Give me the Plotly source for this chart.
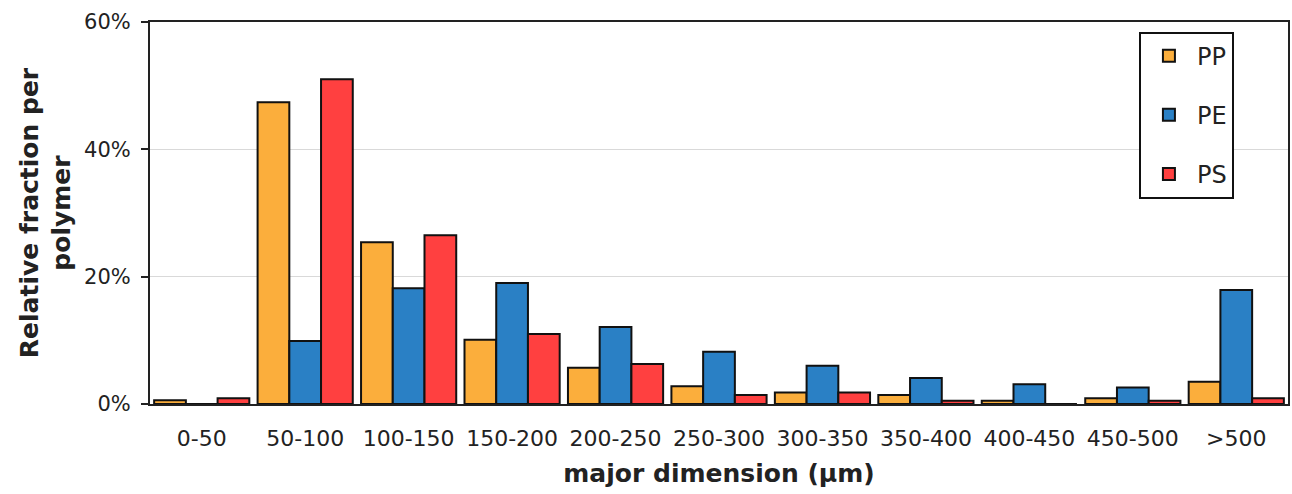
import plotly.graph_objects as go

categories = ["0-50", "50-100", "100-150", "150-200", "200-250", "250-300",
              "300-350", "350-400", "400-450", "450-500", ">500"]
pp = [0.6, 47.4, 25.4, 10.1, 5.7, 2.8, 1.8, 1.4, 0.5, 0.9, 3.5]
pe = [0.0, 9.9, 18.2, 19.0, 12.1, 8.2, 6.0, 4.1, 3.1, 2.6, 17.9]
ps = [0.9, 51.0, 26.5, 11.0, 6.3, 1.4, 1.8, 0.5, 0.0, 0.5, 0.9]

series = [("PP", pp, "#FBAE3C"), ("PE", pe, "#2A80C5"), ("PS", ps, "#FF4040")]

FONT = "'DejaVu Sans', sans-serif"

fig = go.Figure()
for name, vals, col in series:
    fig.add_trace(go.Bar(
        x=categories, y=[v / 100 for v in vals], name=name, legendgroup=name,
        marker=dict(color=col, line=dict(color="#111111", width=2)),
    ))

fig.update_layout(
    width=1292, height=494,
    margin=dict(l=150, r=2, t=22, b=90),
    paper_bgcolor="white", plot_bgcolor="white",
    barmode="group", bargap=0.08, bargroupgap=0,
    font=dict(family=FONT, size=20, color="#222222"),
    showlegend=True,
    legend=dict(
        x=0.869, y=0.975, xanchor="left", yanchor="top",
        bordercolor="#111111", borderwidth=2, bgcolor="white",
        font=dict(size=24, color="#222222"), tracegroupgap=25,
        itemwidth=46,
    ),
)
fig.update_xaxes(
    showline=True, linecolor="#222222", linewidth=2, mirror=True,
    ticks="", tickfont=dict(size=22), showgrid=False, ticklabelstandoff=14,
    title=dict(text="<b>major dimension (µm)</b>", font=dict(size=25), standoff=14),
)
fig.update_yaxes(
    range=[0, 0.6], tickvals=[0, 0.2, 0.4, 0.6], tickformat=".0%",
    showline=True, linecolor="#222222", linewidth=2, mirror=True,
    ticks="outside", ticklen=7, tickcolor="#222222", tickwidth=2,
    showgrid=True, gridcolor="#D9D9D9", gridwidth=1,
    tickfont=dict(size=21), zeroline=False, ticklabelstandoff=6,
    title=dict(text="<b>Relative fraction per<br>polymer</b>", font=dict(size=25), standoff=6),
)

fig.write_html("out.html", config={"displayModeBar": False},
               post_script="document.body.style.margin='0';")
